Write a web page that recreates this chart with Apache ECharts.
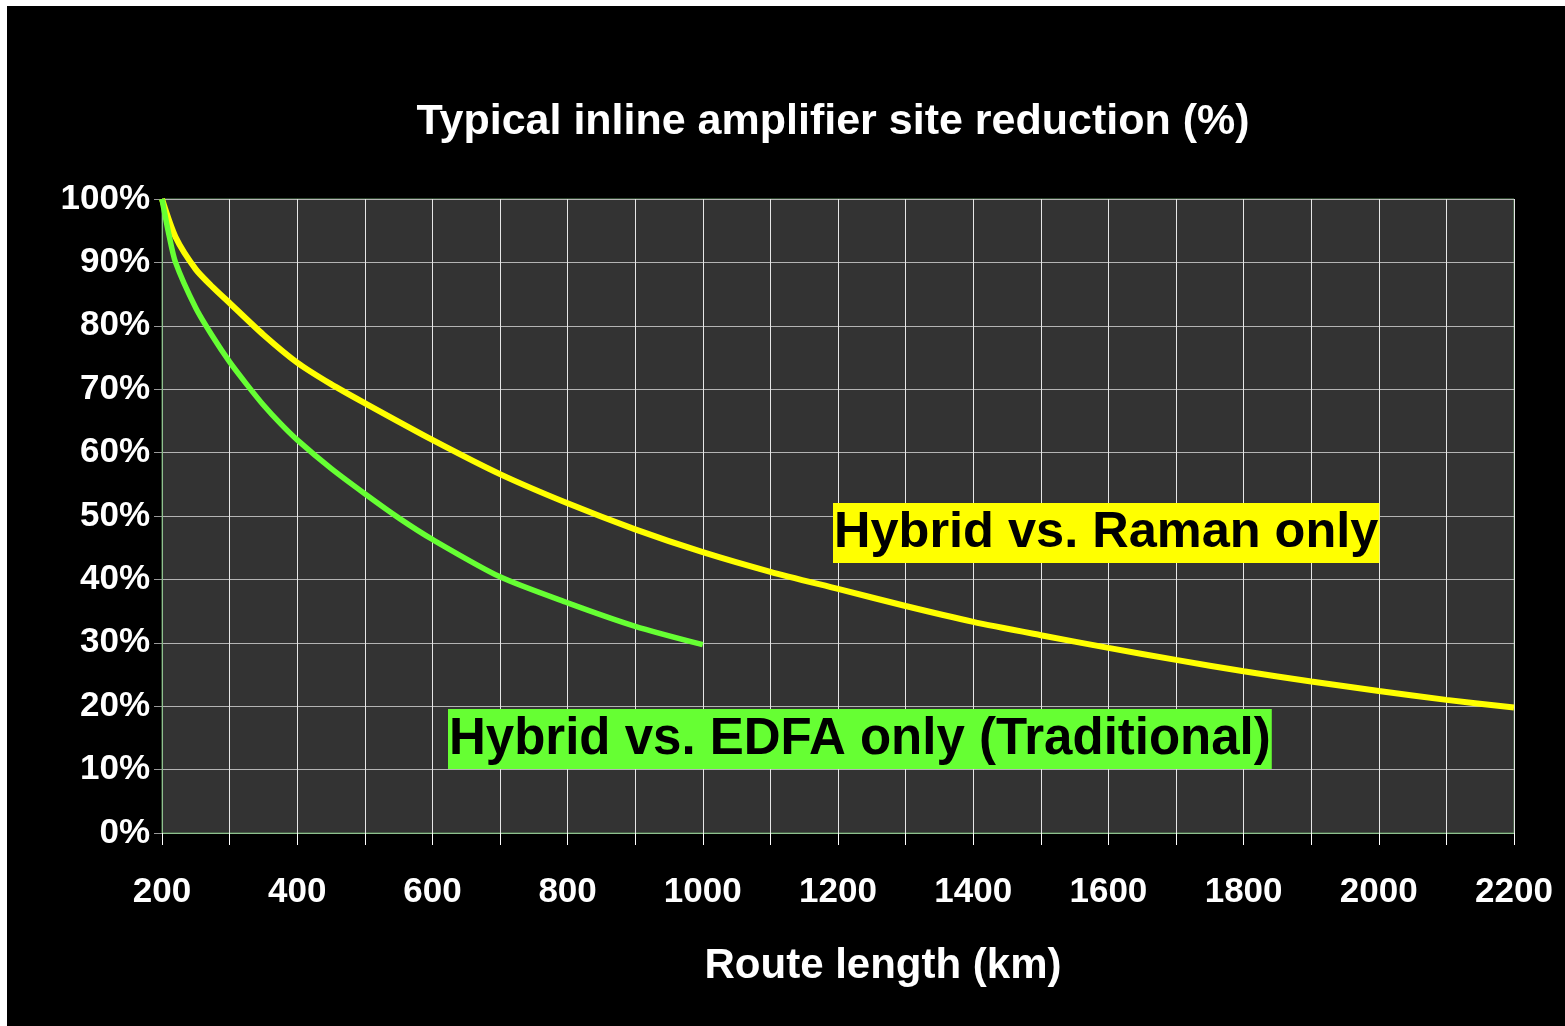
<!DOCTYPE html>
<html>
<head>
<meta charset="utf-8">
<title>Typical inline amplifier site reduction</title>
<script src="https://cdn.jsdelivr.net/npm/echarts@6/dist/echarts.min.js"></script>
<style>
  html, body { margin: 0; padding: 0; background: #fff; }
  #chart { position: absolute; left: 7px; top: 6px; width: 1558px; height: 1020px; }
</style>
</head>
<body>
<div id="chart"></div>
<script>
// route length (km) and site reduction (%)
const ramanKm = [200, 220, 250, 275, 300, 350, 400, 450, 500, 600, 700, 800, 900, 1000, 1100, 1200, 1300, 1400, 1500, 1600, 1700, 1800, 1900, 2000, 2100, 2200]
const ramanPct = [100, 94, 88.9, 86.1, 83.6, 78.6, 74.2, 70.8, 67.8, 62, 56.6, 52, 47.9, 44.3, 41.2, 38.5, 35.8, 33.3, 31.2, 29.2, 27.3, 25.5, 23.9, 22.4, 21, 19.8]
const edfaKm = [200, 210, 220, 250, 275, 300, 325, 350, 375, 400, 450, 500, 550, 600, 700, 800, 900, 1000]
const edfaPct = [100, 94.5, 90, 82.8, 78.3, 74.3, 70.8, 67.5, 64.6, 62, 57.5, 53.5, 49.7, 46.3, 40.4, 36.3, 32.6, 29.7]

const titleText = 'Typical inline amplifier site reduction (%)'
const xName = 'Route length (km)'
const ramanLabel = 'Hybrid vs. Raman only'
const edfaLabel = 'Hybrid vs. EDFA only (Traditional)'

const font = '"Liberation Sans", Arial, sans-serif'
const pairs = (xs, ys) => xs.map((x, i) => [x, ys[i]])

const chart = echarts.init(document.getElementById('chart'))

const option = {
  backgroundColor: '#000',
  animation: false,
  title: {
    text: titleText,
    left: 821,
    top: 90,
    textAlign: 'center',
    textStyle: { color: '#fff', fontFamily: font, fontWeight: 'bold', fontSize: 43 }
  },
  grid: {
    left: 155,
    top: 193,
    width: 1352,
    height: 634,
    show: true,
    backgroundColor: '#333333',
    borderColor: '#5f8f5f',
    borderWidth: 1
  },
  xAxis: {
    type: 'value',
    min: 200,
    max: 2200,
    interval: 100,
    name: xName,
    nameLocation: 'middle',
    nameGap: 112,
    nameTextStyle: { color: '#fff', fontFamily: font, fontWeight: 'bold', fontSize: 42, padding: [0, 0, 0, 90] },
    axisLine: { lineStyle: { color: '#8fc08f', width: 1 } },
    axisTick: { show: true, length: 12, lineStyle: { color: '#fff' } },
    axisLabel: {
      color: '#fff', fontFamily: font, fontWeight: 'bold', fontSize: 35, margin: 42,
      formatter: v => (v % 200 === 0 ? String(v) : '')
    },
    splitLine: { show: true, lineStyle: { color: '#e6e6e6', width: 1 } }
  },
  yAxis: {
    type: 'value',
    min: 0,
    max: 100,
    interval: 10,
    axisLine: { show: true, lineStyle: { color: '#8fc08f', width: 1 } },
    axisTick: { show: true, length: 8, lineStyle: { color: '#999' } },
    axisLabel: {
      color: '#fff', fontFamily: font, fontWeight: 'bold', fontSize: 35, margin: 12,
      formatter: '{value}%'
    },
    splitLine: { show: true, lineStyle: { color: '#b4b4b4', width: 1 } }
  },
  series: [
    {
      name: ramanLabel,
      type: 'line',
      data: pairs(ramanKm, ramanPct),
      smooth: 0.25,
      symbol: 'none',
      lineStyle: { color: '#ffff00', width: 6 },
      z: 3
    },
    {
      name: edfaLabel,
      type: 'line',
      data: pairs(edfaKm, edfaPct),
      smooth: 0.25,
      symbol: 'none',
      lineStyle: { color: '#66ff33', width: 5.5 },
      z: 4
    }
  ],
  graphic: [
    {
      type: 'text',
      left: 826,
      top: 497,
      z: 10,
      style: {
        text: ramanLabel,
        fill: '#000',
        font: 'bold 50.5px ' + font,
        backgroundColor: '#ffff00',
        padding: [2, 1, 1, 1],
        lineHeight: 57
      }
    },
    {
      type: 'text',
      left: 441,
      top: 703,
      z: 10,
      style: {
        text: edfaLabel,
        fill: '#000',
        font: 'bold 51px ' + font,
        backgroundColor: '#66ff33',
        padding: [2, 1, 1, 1],
        lineHeight: 57
      }
    }
  ]
}

chart.setOption(option)
window.addEventListener('resize', () => chart.resize())
</script>
</body>
</html>
